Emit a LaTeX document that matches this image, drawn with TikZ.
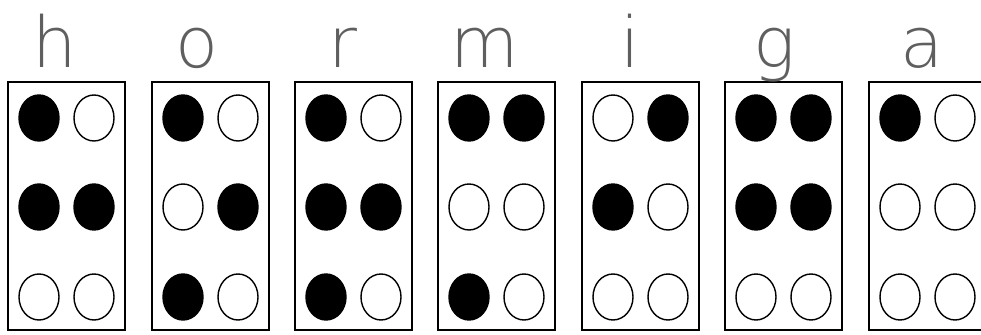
\documentclass[tikz,border=0pt]{standalone}
\usepackage{fontspec}
\usepackage{tikz}
\usetikzlibrary{shapes.geometric}
\newfontfamily\handfont{DejaVu Sans ExtraLight}
\definecolor{handgray}{RGB}{95, 95, 95}
\tikzset{
  cellbox/.style={draw, line width=1.1pt, minimum width=2.34cm, minimum height=4.96cm, inner sep=0pt},
  fulldot/.style={ellipse, fill=black, draw=black, line width=0.8pt, minimum width=0.8cm, minimum height=0.92cm, inner sep=0pt},
  emptydot/.style={ellipse, fill=white, draw=black, line width=0.8pt, minimum width=0.8cm, minimum height=0.92cm, inner sep=0pt},
  letter/.style={text=handgray, anchor=base, font=\handfont\fontsize{40}{40}\selectfont}
}

\begin{document}
\begin{tikzpicture}
        \clip (0,0) rectangle (19.62,6.7);
        \fill[white] (0,0) rectangle (19.62,6.7);
        % h
        \node[cellbox] (hbox) at (1.33,2.58) {};
        \node[letter] (hlet) at (1.10,5.34) {h};
        \node[fulldot] (h1) at (0.78,4.34) {}; \node[emptydot] (h4) at (1.88,4.34) {};
        \node[fulldot] (h2) at (0.78,2.56) {}; \node[fulldot] (h5) at (1.88,2.56) {};
        \node[emptydot] (h3) at (0.78,0.76) {}; \node[emptydot] (h6) at (1.88,0.76) {};
        % o
        \node[cellbox] (obox) at (4.21,2.58) {};
        \node[letter] (olet) at (3.94,5.34) {o};
        \node[fulldot] (o1) at (3.66,4.34) {}; \node[emptydot] (o4) at (4.76,4.34) {};
        \node[emptydot] (o2) at (3.66,2.56) {}; \node[fulldot] (o5) at (4.76,2.56) {};
        \node[fulldot] (o3) at (3.66,0.76) {}; \node[emptydot] (o6) at (4.76,0.76) {};
        % r
        \node[cellbox] (rbox) at (7.07,2.58) {};
        \node[letter] (rlet) at (6.86,5.34) {r};
        \node[fulldot] (r1) at (6.52,4.34) {}; \node[emptydot] (r4) at (7.62,4.34) {};
        \node[fulldot] (r2) at (6.52,2.56) {}; \node[fulldot] (r5) at (7.62,2.56) {};
        \node[fulldot] (r3) at (6.52,0.76) {}; \node[emptydot] (r6) at (7.62,0.76) {};
        % m
        \node[cellbox] (mbox) at (9.93,2.58) {};
        \node[letter] (mlet) at (9.70,5.34) {m};
        \node[fulldot] (m1) at (9.38,4.34) {}; \node[fulldot] (m4) at (10.48,4.34) {};
        \node[emptydot] (m2) at (9.38,2.56) {}; \node[emptydot] (m5) at (10.48,2.56) {};
        \node[fulldot] (m3) at (9.38,0.76) {}; \node[emptydot] (m6) at (10.48,0.76) {};
        % i
        \node[cellbox] (ibox) at (12.81,2.58) {};
        \node[letter] (ilet) at (12.60,5.34) {i};
        \node[emptydot] (i1) at (12.26,4.34) {}; \node[fulldot] (i4) at (13.36,4.34) {};
        \node[fulldot] (i2) at (12.26,2.56) {}; \node[emptydot] (i5) at (13.36,2.56) {};
        \node[emptydot] (i3) at (12.26,0.76) {}; \node[emptydot] (i6) at (13.36,0.76) {};
        % g
        \node[cellbox] (gbox) at (15.67,2.58) {};
        \node[letter] (glet) at (15.50,5.34) {g};
        \node[fulldot] (g1) at (15.12,4.34) {}; \node[fulldot] (g4) at (16.22,4.34) {};
        \node[fulldot] (g2) at (15.12,2.56) {}; \node[fulldot] (g5) at (16.22,2.56) {};
        \node[emptydot] (g3) at (15.12,0.76) {}; \node[emptydot] (g6) at (16.22,0.76) {};
        % a
        \node[cellbox] (abox) at (18.55,2.58) {};
        \node[letter] (alet) at (18.44,5.34) {a};
        \node[fulldot] (a1) at (18.00,4.34) {}; \node[emptydot] (a4) at (19.10,4.34) {};
        \node[emptydot] (a2) at (18.00,2.56) {}; \node[emptydot] (a5) at (19.10,2.56) {};
        \node[emptydot] (a3) at (18.00,0.76) {}; \node[emptydot] (a6) at (19.10,0.76) {};
      \end{tikzpicture}
\end{document}
